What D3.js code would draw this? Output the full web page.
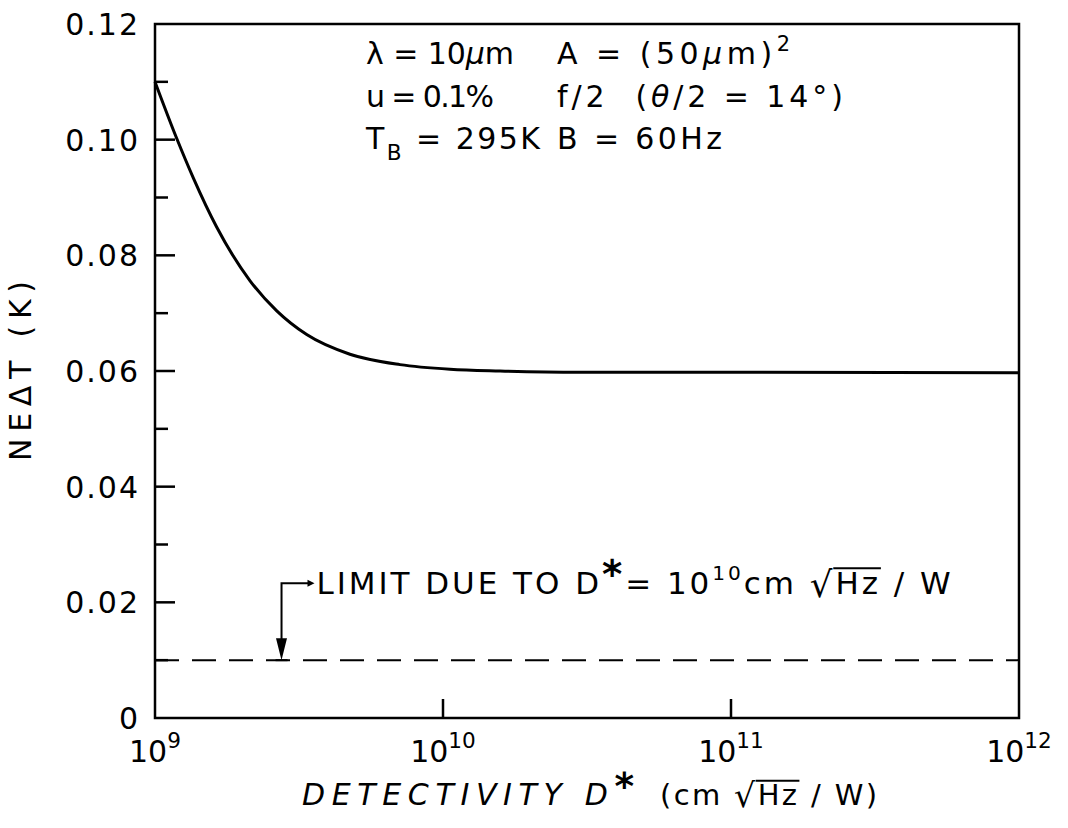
<!DOCTYPE html>
<html>
<head>
<meta charset="utf-8">
<script src="https://cdn.jsdelivr.net/npm/d3@7"></script>
<style>
  body { margin: 0; background: #fff; }
  svg { display: block; }
  text { white-space: pre; fill: #000; }
</style>
</head>
<body>
<svg id="chart" width="1068" height="828"></svg>
<script>
// NEΔT versus detector detectivity D* (cm·√Hz/W)
const detectivity = [1e9, 1.19e9, 1.358e9, 1.637e9, 2.138e9, 2.647e9, 3.363e9, 4.75e9, 7.09e9, 1.057e10, 1.578e10, 3e10, 1e11, 1e12];
const netd        = [0.1100, 0.1002, 0.0934, 0.0849, 0.0756, 0.0704, 0.0663, 0.0629, 0.0611, 0.0603, 0.0600, 0.0598, 0.0598, 0.0597];

// Limiting NEΔT for D* = 1e10 (dashed line) and where the arrow points to it
const limitNetd = 0.010;
const limitSpan = [1e9, 1e12];
const arrowAt = 2.75e9;

const xTickValues = [1e9, 1e10, 1e11, 1e12];
const xTickExponents = ["9", "10", "11", "12"];
const yMajorTicks = [0, 0.02, 0.04, 0.06, 0.08, 0.10, 0.12];
const yMinorTicks = [0.01, 0.03, 0.05, 0.07, 0.09, 0.11];

const FONT = "DejaVu Sans";
const svg = d3.select("#chart");

const x = d3.scaleLog().domain([1e9, 1e12]).range([155, 1019]);
const y = d3.scaleLinear().domain([0, 0.12]).range([718, 24]);

// Lay out a line of mixed text runs (sub/superscripts, italics, radical with bar).
function richText(parent, px, py, segs, opts = {}) {
  const size = opts.size || 30;
  const g = parent.append("g");
  const inner = g.append("g");
  const runs = segs.map(s => {
    const fs = size * (s.scale || 1);
    const t = inner.append("text")
      .attr("xml:space", "preserve")
      .attr("font-family", FONT)
      .attr("font-size", fs)
      .attr("font-style", s.italic ? "italic" : null)
      .attr("font-weight", s.bold ? "bold" : null)
      .attr("y", -(s.rise || 0) * size)
      .text(s.t);
    return { s, t, fs };
  });
  const place = () => {
    let cx = 0;
    runs.forEach(r => {
      r.x0 = cx;
      r.t.attr("x", cx);
      cx += r.t.node().getComputedTextLength();
      r.x1 = cx;
    });
    return cx;
  };
  let w = place();
  if (opts.width) {
    const n = runs.reduce((a, r) => a + r.s.t.length, 0);
    const ls = (opts.width - w) / Math.max(1, n - 1);
    runs.forEach(r => r.t.style("letter-spacing", ls + "px"));
    w = place();
    w -= ls;
  }
  // bar over radicand
  runs.forEach((r, i) => {
    if (r.s.overline) {
      const rad = runs[i - 1];
      const yb = -0.80 * rad.fs - (rad.s.rise || 0) * size;
      inner.append("line")
        .attr("x1", rad.x1 - (rad.fs * 0.06)).attr("x2", r.x1)
        .attr("y1", yb).attr("y2", yb)
        .attr("stroke", "#000").attr("stroke-width", 2);
    }
  });
  const anchor = opts.anchor || "start";
  const off = anchor === "middle" ? -w / 2 : anchor === "end" ? -w : 0;
  inner.attr("transform", `translate(${off},0)`);
  g.attr("transform", `translate(${px},${py})` + (opts.rotate ? ` rotate(${opts.rotate})` : ""));
  return g;
}

// Frame
const [x0, x1] = x.range();
const [yb, yt] = y.range();
svg.append("rect")
  .attr("x", x0).attr("y", yt)
  .attr("width", x1 - x0).attr("height", yb - yt)
  .attr("fill", "none").attr("stroke", "#000").attr("stroke-width", 2.5);

// Y ticks (inward, left side only)
svg.append("g").selectAll("line")
  .data(yMajorTicks.filter(v => v > 0 && v < 0.12))
  .join("line")
  .attr("x1", x0).attr("x2", x0 + 20)
  .attr("y1", d => y(d)).attr("y2", d => y(d))
  .attr("stroke", "#000").attr("stroke-width", 2.5);
svg.append("g").selectAll("line")
  .data(yMinorTicks)
  .join("line")
  .attr("x1", x0).attr("x2", x0 + 13)
  .attr("y1", d => y(d)).attr("y2", d => y(d))
  .attr("stroke", "#000").attr("stroke-width", 2.5);

// Y tick labels
svg.append("g").selectAll("text")
  .data(yMajorTicks)
  .join("text")
  .attr("font-family", FONT)
  .attr("font-size", 30)
  .attr("text-anchor", "end")
  .style("letter-spacing", "2px")
  .attr("x", 140)
  .attr("y", d => y(d) + 11)
  .text(d => d === 0 ? "0" : d.toFixed(2));

// X ticks (inward, interior decades)
svg.append("g").selectAll("line")
  .data(xTickValues.slice(1, -1))
  .join("line")
  .attr("x1", d => x(d)).attr("x2", d => x(d))
  .attr("y1", yb).attr("y2", yb - 19)
  .attr("stroke", "#000").attr("stroke-width", 2.5);

// X tick labels 10^n
xTickValues.forEach((v, i) => {
  richText(svg, x(v), 762, [
    { t: "10" },
    { t: xTickExponents[i], scale: 0.72, rise: 0.47 }
  ], { size: 30, anchor: "middle" });
});

// Axis titles
richText(svg, 31, y(0.06), [{ t: "NEΔT (K)" }], { size: 30, anchor: "middle", rotate: -90, width: 180 });

richText(svg, 302, 805, [
  { t: "DETECTIVITY D", italic: true },
  { t: "*", bold: true, scale: 1.25, rise: 0.2 }
], { size: 30, width: 332 });
richText(svg, 660, 805, [
  { t: "(cm " },
  { t: "√", scale: 1.15, rise: -0.08 },
  { t: "Hz", overline: true },
  { t: " / W)" }
], { size: 29, width: 217 });

// Curve
const pts = detectivity.map((d, i) => [d, netd[i]]);
svg.append("path")
  .datum(pts)
  .attr("fill", "none")
  .attr("stroke", "#000")
  .attr("stroke-width", 3)
  .attr("d", d3.line().x(d => x(d[0])).y(d => y(d[1])).curve(d3.curveMonotoneX));

// Dashed limit line
svg.append("line")
  .attr("x1", x(limitSpan[0])).attr("x2", x(limitSpan[1]))
  .attr("y1", y(limitNetd)).attr("y2", y(limitNetd))
  .attr("stroke", "#000").attr("stroke-width", 2)
  .attr("stroke-dasharray", "24 13");

// Arrow annotation for the limit
const ax = x(arrowAt);
const ay = y(limitNetd);
const aTop = ay - 77;
svg.append("path")
  .attr("d", `M${ax + 28},${aTop} L${ax},${aTop} L${ax},${ay - 20}`)
  .attr("fill", "none").attr("stroke", "#000").attr("stroke-width", 2);
svg.append("path")
  .attr("d", `M${ax - 5.5},${ay - 22} L${ax + 5.5},${ay - 22} L${ax},${ay} Z`)
  .attr("fill", "#000");
svg.append("path")
  .attr("d", `M${ax + 26},${aTop - 3.5} L${ax + 33},${aTop} L${ax + 26},${aTop + 3.5} Z`)
  .attr("fill", "#000");
svg.append("line")
  .attr("x1", ax - 6).attr("x2", ax + 6)
  .attr("y1", ay).attr("y2", ay)
  .attr("stroke", "#000").attr("stroke-width", 2);

richText(svg, ax + 35, aTop + 11, [
  { t: "LIMIT DUE TO D" },
  { t: "*", bold: true, scale: 1.25, rise: 0.2 },
  { t: "= 10" },
  { t: "10", scale: 0.65, rise: 0.45 },
  { t: "cm " },
  { t: "√", scale: 1.15, rise: -0.08 },
  { t: "Hz", overline: true },
  { t: " / W" }
], { size: 31, width: 634 });

// Operating parameters
const colA = 366, colB = 557;
richText(svg, colA, 64, [{ t: "λ = 10" }, { t: "μ", italic: true }, { t: "m" }], { size: 30, width: 148 });
richText(svg, colA, 107, [{ t: "u = 0.1%" }], { size: 30, width: 128 });
richText(svg, colA, 149, [{ t: "T" }, { t: "B", scale: 0.72, rise: -0.36 }, { t: " = 295K" }], { size: 30, width: 174 });
richText(svg, colB, 64, [{ t: "A = (50" }, { t: "μ", italic: true }, { t: "m)" }, { t: "2", scale: 0.7, rise: 0.45 }], { size: 30, width: 233 });
richText(svg, colB, 107, [{ t: "f/2  (" }, { t: "θ", italic: true }, { t: "/2 = 14°)" }], { size: 30, width: 286 });
richText(svg, colB, 149, [{ t: "B = 60Hz" }], { size: 30, width: 165 });
</script>
</body>
</html>
